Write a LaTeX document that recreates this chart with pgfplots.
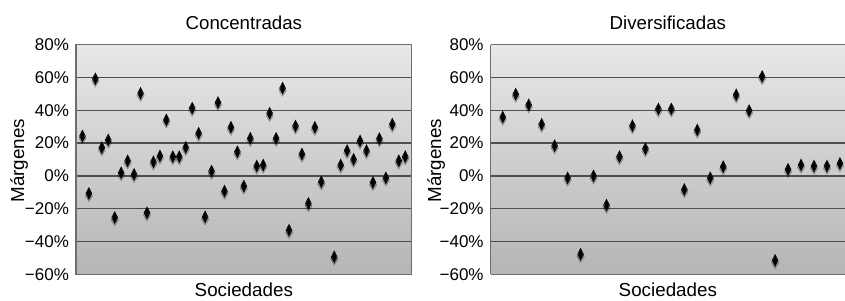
\documentclass[border=0pt]{standalone}
\usepackage{fontspec}
\setmainfont{Liberation Sans}
\usepackage{pgfplots}
\usepackage{pgfplotstable}
\pgfplotsset{compat=1.18}
\definecolor{bgtop}{HTML}{E7E8E8}
\definecolor{bgbot}{HTML}{B3B5B7}
\definecolor{gridc}{HTML}{4E4E4E}
\definecolor{framec}{HTML}{6E6E6E}

\pgfplotstableread{
x y
1 24.3
2 -10.7
3 59.2
4 17.2
5 21.9
6 -25.4
7 1.9
8 9.2
9 0.9
10 50.4
11 -22.5
12 8.6
13 12.1
14 34.1
15 11.7
16 11.7
17 17.4
18 41.3
19 26.0
20 -25.0
21 2.9
22 44.7
23 -9.3
24 29.6
25 14.7
26 -6.2
27 22.9
28 6.0
29 6.6
30 38.2
31 22.9
32 53.5
33 -33.1
34 30.4
35 13.3
36 -16.8
37 29.6
38 -3.6
40 -49.4
41 6.6
42 15.4
43 10.1
44 21.3
45 15.4
46 -4.0
47 22.7
48 -1.2
49 31.5
50 9.2
51 11.7
}\concdata

\pgfplotstableread{
x y
1 35.8
2 49.8
3 43.3
4 31.5
5 18.4
6 -1.2
7 -47.8
8 0.0
9 -17.8
10 11.7
11 30.6
12 16.6
13 40.8
14 40.8
15 -8.3
16 28.0
17 -1.2
18 5.6
19 49.4
20 39.8
21 60.6
22 -51.5
23 4.0
24 6.6
25 6.0
26 6.0
27 7.6
}\divdata

\pgfplotsset{
  mystyle/.style={
    scale only axis, height=114.8pt, ymin=-60, ymax=80,
    ytick={-60,-40,-20,0,20,40,60,80},
    yticklabels={−60\%,−40\%,−20\%,0\%,20\%,40\%,60\%,80\%},
    ymajorgrids, grid style={gridc, line width=0.75pt},
    major tick length=0pt, xtick=\empty,
    axis background/.style={top color=bgtop, bottom color=bgbot},
    axis line style={framec, line width=0.6pt, -},
    tick label style={font=\fontsize{8.5}{10}\selectfont},
    yticklabel style={inner sep=0pt, xshift=-3.35pt},
    every axis title shift=0pt,
    title style={at={(0.5,1)}, anchor=base, yshift=7.35pt, font=\fontsize{9.35}{11}\selectfont},
    xlabel style={at={(0.5,0)}, anchor=base, yshift=-11.1pt, font=\fontsize{9.4}{11}\selectfont},
    xlabel={Sociedades},
    clip=false,
  },
  shadowm/.style={only marks, mark=diamond*, mark size=2.9pt, mark options={fill=black, draw=none, opacity=0.2, yshift=-1.2pt, xscale=0.85}},
  halom/.style={only marks, mark=diamond*, mark size=2.8pt, mark options={fill=white, draw=none, xscale=0.68}},
  corem/.style={only marks, mark=diamond*, mark size=2.25pt, mark options={fill=black, draw=none, xscale=0.55}},
}

\begin{document}
\begin{tikzpicture}
\path[use as bounding box] (0,0) rectangle (422.5pt,150pt);
\begin{axis}[mystyle, at={(38pt,12.85pt)}, anchor=south west,
  width=167.85pt, xmin=0, xmax=52, title={Concentradas}]
  \addplot[shadowm] table[x=x,y=y] {\concdata};
  \addplot[halom] table[x=x,y=y] {\concdata};
  \addplot[corem] table[x=x,y=y] {\concdata};
\end{axis}
\begin{axis}[mystyle, at={(245.35pt,12.85pt)}, anchor=south west,
  width=177.15pt, xmin=0.07, xmax=27.39, title={Diversificadas},
  axis x line*=box, axis y line*=left]
  \addplot[shadowm] table[x=x,y=y] {\divdata};
  \addplot[halom] table[x=x,y=y] {\divdata};
  \addplot[corem] table[x=x,y=y] {\divdata};
\end{axis}
\node[rotate=90, anchor=base, inner sep=0pt, font=\fontsize{9.4}{11}\selectfont] at (12pt,69.6pt) {Márgenes};
\node[rotate=90, anchor=base, inner sep=0pt, font=\fontsize{9.4}{11}\selectfont] at (220.6pt,69.6pt) {Márgenes};
\end{tikzpicture}
\end{document}
